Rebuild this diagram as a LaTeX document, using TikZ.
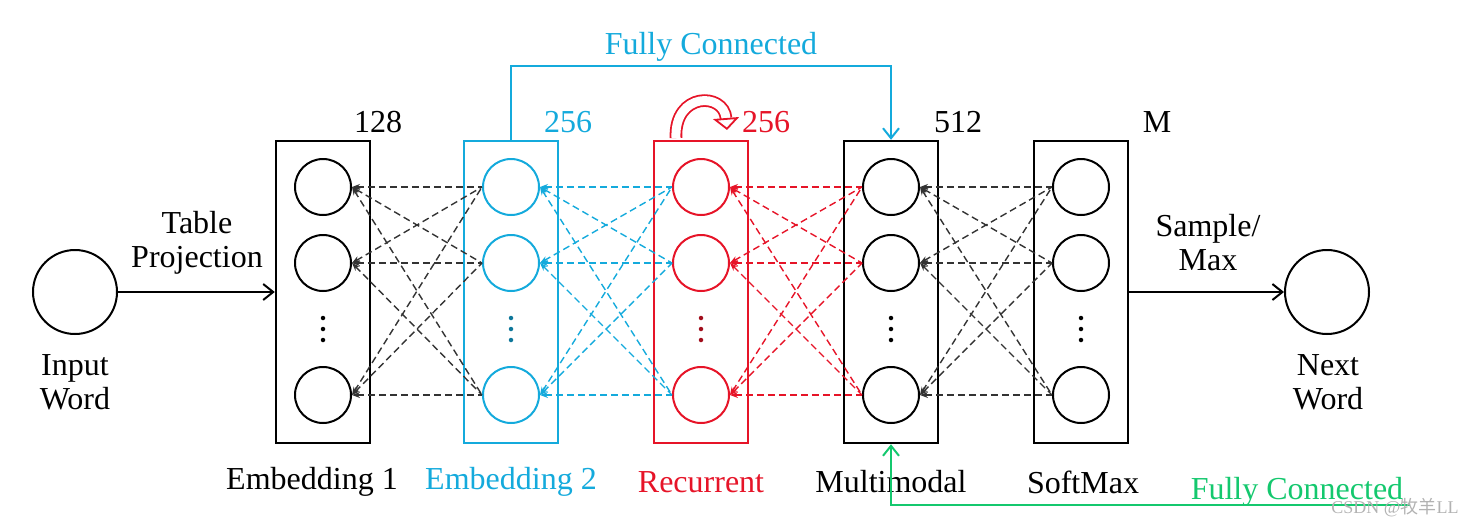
\documentclass[tikz,border=0pt]{standalone}
\usepackage{fontspec}
\setmainfont{Liberation Serif}
\newfontfamily\cjk{Noto Sans CJK SC}
\usetikzlibrary{arrows.meta}
\definecolor{cy}{RGB}{20,170,220}
\definecolor{rd}{RGB}{230,20,40}
\definecolor{gr}{RGB}{20,200,110}
\begin{document}
\begin{tikzpicture}[x=1pt,y=-1pt,
  lay/.style={draw,line width=2.4pt,minimum width=94pt,minimum height=302pt,inner sep=0pt},
  neu/.style={circle,draw,line width=2pt,minimum size=56pt,inner sep=0pt},
  big/.style={circle,draw,line width=2pt,minimum size=84pt,inner sep=0pt},
  txt/.style={font=\fontsize{32}{34}\selectfont,align=center,inner sep=0pt},
  dot/.style={circle,fill,inner sep=0pt,minimum size=4.5pt},
  ed/.style={dashed,line width=1.4pt,dash pattern=on 7pt off 4pt,{Stealth[length=8pt]}-},
  ar/.style={line width=2pt,-{Straight Barb[length=10pt,width=16pt]}}]
\useasboundingbox (0,0) rectangle (1476,528);
\foreach \n/\x/\c in {1/323/black,2/511/cy,3/701/rd,4/891/black,5/1081/black}{
  \node[lay,draw=\c] (L\n) at (\x,292) {};
  \node[neu,draw=\c] (a\n) at (\x,187) {};
  \node[neu,draw=\c] (b\n) at (\x,263) {};
  \node[neu,draw=\c] (c\n) at (\x,395) {};
  \node[dot,fill=\c!70!black] (p\n) at (\x,318) {};
  \node[dot,fill=\c!70!black] (q\n) at (\x,329) {};
  \node[dot,fill=\c!70!black] (s\n) at (\x,340) {};
}
\foreach \l/\r/\c in {1/2/black!80,2/3/cy,3/4/rd,4/5/black!80}{
  \foreach \p in {a,b,c}{\foreach \q in {a,b,c}{
    \draw[ed,\c] (\p\l.east) -- (\q\r.west);}}}
\node[big] (in) at (75,292) {};
\node[big] (out) at (1327,292) {};
\draw[ar] (in.east) -- (in.east -| L1.west);
\draw[ar] (L5.east |- out.west) -- (out.west);
\node[txt] (tp) at (197,243) {Table\\Projection};
\node[txt] (sm) at (1208,243) {Sample/\\Max};
\node[txt] (iw) at (75,382) {Input\\Word};
\node[txt] (nw) at (1328,382) {Next\\Word};
\node[txt] (n1) at (378,122) {128};
\node[txt,text=cy] (n2) at (568,122) {256};
\node[txt,text=rd] (n3) at (766,122) {256};
\node[txt] (n4) at (958,122) {512};
\node[txt] (n5) at (1157,122) {M};
\node[txt] (t1) at (312,482) {Embedding 1};
\node[txt,text=cy] (t2) at (511,482) {Embedding 2};
\node[txt,text=rd] (t3) at (701,482) {Recurrent};
\node[txt] (t4) at (891,482) {Multimodal};
\node[txt] (t5) at (1083,482) {SoftMax};
\coordinate (f1) at (511,66);
\coordinate (f2) at (891,66);
\draw[ar,cy] (L2.north) -- (f1) -- (f2) -- (L4.north);
\node[txt,text=cy] (fc1) at (711,47) {Fully Connected};
\coordinate (g1) at (891,505);
\coordinate (g2) at (1410,505);
\draw[ar,gr] (g2) -- (g1) -- (L4.south);
\node[txt,text=gr] (fc2) at (1297,492) {Fully Connected};
\coordinate (r1) at (676,138);
\coordinate (r2) at (727,130);
\draw[rd,line width=1.8pt,double=white,double distance=9pt,-{Triangle[open,length=12pt,width=26pt]}]
  (r1) .. controls (674,92) and (724,92) .. (r2);
\node[font=\fontsize{18}{20}\selectfont,text=gray!60,inner sep=0pt] (wm) at (1395,508) {CSDN @{\cjk 牧羊}LL};
\end{tikzpicture}
\end{document}
